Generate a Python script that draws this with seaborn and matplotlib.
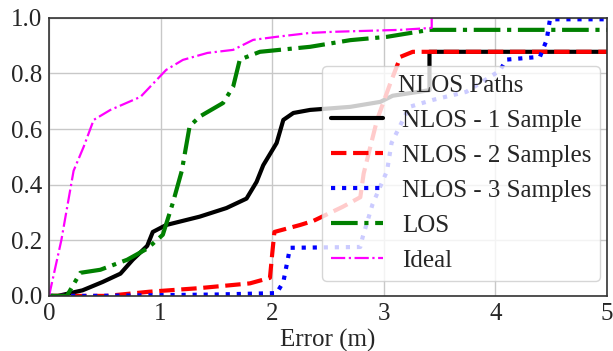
import numpy as np
import pandas as pd
import seaborn as sns
import matplotlib
matplotlib.use("Agg")
import matplotlib.pyplot as plt

# CDF curves (error in m, cumulative fraction)
nlos1_x = [0.0, 0.08, 0.30, 0.48, 0.64, 0.75, 0.88, 0.93, 1.05, 1.35, 1.59, 1.77, 1.86, 1.92,
           2.04, 2.10, 2.19, 2.34, 2.70, 2.97, 3.08, 3.41, 3.41, 5.0]
nlos1_y = [0.0, 0.0, 0.02, 0.05, 0.08, 0.13, 0.18, 0.23, 0.255, 0.285, 0.316, 0.35, 0.41, 0.47,
           0.55, 0.633, 0.658, 0.669, 0.68, 0.698, 0.72, 0.74, 0.878, 0.878]

nlos2_x = [0.0, 0.52, 0.90, 1.35, 1.80, 1.98, 2.00, 2.02, 2.25, 2.37, 2.63, 2.79, 2.82, 2.94,
           3.06, 3.15, 3.26, 5.0]
nlos2_y = [0.0, 0.0, 0.015, 0.028, 0.045, 0.065, 0.15, 0.23, 0.255, 0.27, 0.32, 0.355, 0.44, 0.633,
           0.766, 0.86, 0.878, 0.878]

nlos3_x = [0.0, 0.40, 1.50, 2.04, 2.10, 2.16, 2.79, 2.81, 2.90, 3.03, 3.07, 3.23, 3.44, 3.74,
           4.04, 4.10, 4.40, 4.46, 4.49, 5.0]
nlos3_y = [0.0, 0.0, 0.005, 0.01, 0.05, 0.173, 0.176, 0.21, 0.33, 0.45, 0.55, 0.68, 0.705, 0.734,
           0.81, 0.85, 0.86, 0.92, 0.995, 0.995]

los_x = [0.0, 0.16, 0.28, 0.46, 0.70, 0.88, 1.02, 1.11, 1.19, 1.26, 1.35, 1.56, 1.65, 1.71,
         1.89, 2.34, 2.70, 3.03, 3.41, 5.0]
los_y = [0.0, 0.0, 0.083, 0.094, 0.13, 0.17, 0.22, 0.335, 0.45, 0.61, 0.645, 0.694, 0.752, 0.85,
         0.878, 0.896, 0.92, 0.932, 0.957, 0.957]

ideal_x = [0.0, 0.11, 0.22, 0.31, 0.40, 0.55, 0.82, 1.05, 1.20, 1.42, 1.65, 1.83, 2.04, 2.34,
           2.55, 3.15, 3.43, 3.43]
ideal_y = [0.0, 0.2, 0.45, 0.536, 0.633, 0.669, 0.716, 0.813, 0.849, 0.874, 0.885, 0.921, 0.932, 0.946,
           0.95, 0.957, 0.964, 1.0]

sns.set_style("whitegrid")
plt.rcParams['font.family'] = ['Liberation Serif', 'DejaVu Serif']
plt.rcParams['font.size'] = 18

fig, ax = plt.subplots(figsize=(6.13, 3.51), dpi=100)
fig.subplots_adjust(left=0.08, right=0.99, top=0.949, bottom=0.157)

sns.lineplot(x=nlos1_x, y=nlos1_y, ax=ax, color='black', lw=3, ls='-',
             sort=False, estimator=None, label='NLOS - 1 Sample')
sns.lineplot(x=nlos2_x, y=nlos2_y, ax=ax, color='red', lw=3, ls='--',
             sort=False, estimator=None, label='NLOS - 2 Samples')
sns.lineplot(x=nlos3_x, y=nlos3_y, ax=ax, color='blue', lw=3, ls=':',
             sort=False, estimator=None, label='NLOS - 3 Samples')
sns.lineplot(x=los_x, y=los_y, ax=ax, color='green', lw=3, ls='-.',
             sort=False, estimator=None, label='LOS')
sns.lineplot(x=ideal_x, y=ideal_y, ax=ax, color='magenta', lw=1.6, ls='-.',
             sort=False, estimator=None, label='Ideal')

ax.set_xlim(0, 5)
ax.set_ylim(0, 1.0)
ax.set_xticks([0, 1, 2, 3, 4, 5])
ax.set_yticks([0.0, 0.2, 0.4, 0.6, 0.8, 1.0])
ax.set_yticklabels(['0.0', '0.2', '0.4', '0.6', '0.8', '1.0'])
ax.set_xlabel('Error (m)', labelpad=3)
ax.set_ylabel('')
ax.grid(True, color='#c8c8c8', lw=1)
for s in ax.spines.values():
    s.set_color('#333333')
    s.set_linewidth(1.2)
ax.tick_params(axis='both', length=4, width=1, color='#333333', pad=1, labelsize=18)

ax.legend(title='NLOS Paths', loc='lower right', bbox_to_anchor=(0.988, 0.055),
          fontsize=18, title_fontsize=18, handlelength=2.1, handletextpad=0.75,
          framealpha=0.8, borderaxespad=0, labelspacing=0.5, borderpad=0.35)

fig.savefig('out.png', dpi=100)
